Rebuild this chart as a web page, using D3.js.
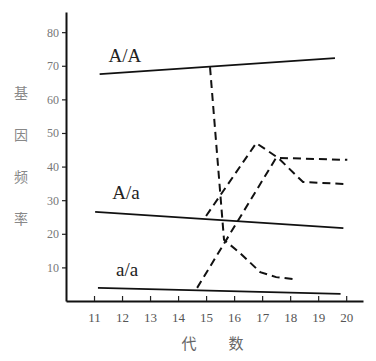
<!DOCTYPE html>
<html>
<head>
<meta charset="utf-8">
<script src="https://cdn.jsdelivr.net/npm/d3@7.9.0/dist/d3.min.js"></script>
<style>
  body { margin: 0; background: #fff; }
  svg { display: block; }
</style>
</head>
<body>
<div id="chart"></div>
<script>
// generation ticks and frequency ticks
const xTicks = [11, 12, 13, 14, 15, 16, 17, 18, 19, 20];
const yTicks = [10, 20, 30, 40, 50, 60, 70, 80];
const yTitle = ['基', '因', '频', '率'];
const xTitle = ['代', '数'];

// solid lines: genotype frequencies in the first population
const genotypes = ['A/A', 'A/a', 'a/a'];
const lineAA = [[11.2, 67.5], [19.6, 72.3]];
const lineAa = [[11.04, 26.5], [19.9, 21.7]];
const lineaa = [[11.14, 3.9], [19.8, 2.1]];

// dashed lines
const dashAA = [[15.14, 69.6], [15.64, 18.2], [16.21, 14.3], [16.93, 8.6], [17.5, 7.1], [18.14, 6.5]];
const dashaa = [[14.68, 3.9], [17.5, 42.6], [20.04, 42.0]];
const dashAa = [[15.0, 25.3], [16.79, 47.0], [17.57, 42.6], [18.46, 35.4], [20.04, 34.8]];

const width = 376;
const height = 361;

const x = d3.scaleLinear().domain([10, 20.6]).range([66, 363]);
const y = d3.scaleLinear().domain([0, 86]).range([301, 12]);

const svg = d3.select('#chart')
  .append('svg')
  .attr('width', width)
  .attr('height', height);

const serif = '"Liberation Serif", "DejaVu Serif", serif';
const cjk = '"Noto Sans CJK SC", sans-serif';

// axes
const yAxis = svg.append('g')
  .attr('transform', `translate(${x(10)},0)`)
  .call(d3.axisLeft(y).tickValues(yTicks).tickSize(4).tickSizeOuter(0).tickPadding(3));

const xAxis = svg.append('g')
  .attr('transform', `translate(0,${y(0)})`)
  .call(d3.axisBottom(x).tickValues(xTicks).tickSize(-5).tickSizeOuter(0).tickPadding(12));

[yAxis, xAxis].forEach((g) => {
  g.select('.domain').attr('stroke', '#111').attr('stroke-width', 2);
  g.selectAll('.tick line').attr('stroke', '#222').attr('stroke-width', 1.2);
  g.selectAll('.tick text')
    .attr('fill', '#555')
    .attr('font-family', serif)
    .attr('font-size', 13);
});
yAxis.selectAll('.tick text').attr('font-size', 12).attr('fill', '#777');

// axis titles
svg.append('g')
  .selectAll('text')
  .data(yTitle)
  .join('text')
  .attr('x', 21)
  .attr('y', (d, i) => 92 + i * 42)
  .attr('text-anchor', 'middle')
  .attr('dominant-baseline', 'central')
  .attr('font-family', cjk)
  .attr('font-size', 14)
  .attr('fill', '#888')
  .text((d) => d);

svg.append('g')
  .selectAll('text')
  .data(xTitle)
  .join('text')
  .attr('x', (d, i) => 189 + i * 47)
  .attr('y', 342)
  .attr('text-anchor', 'middle')
  .attr('dominant-baseline', 'central')
  .attr('font-family', cjk)
  .attr('font-size', 15)
  .attr('fill', '#666')
  .text((d) => d);

const line = d3.line().x((d) => x(d[0])).y((d) => y(d[1]));

svg.append('g')
  .selectAll('path')
  .data([lineAA, lineAa, lineaa])
  .join('path')
  .attr('d', line)
  .attr('fill', 'none')
  .attr('stroke', '#111')
  .attr('stroke-width', 1.8);

svg.append('g')
  .selectAll('path')
  .data([dashAA, dashaa, dashAa])
  .join('path')
  .attr('d', line)
  .attr('fill', 'none')
  .attr('stroke', '#111')
  .attr('stroke-width', 2)
  .attr('stroke-dasharray', '8,5');

// genotype labels sit above the left end of each solid line
const labelSpots = [[12.1, 71.1], [12.14, 30.4], [12.18, 7.4]];
svg.append('g')
  .selectAll('text')
  .data(genotypes)
  .join('text')
  .attr('x', (d, i) => x(labelSpots[i][0]))
  .attr('y', (d, i) => y(labelSpots[i][1]))
  .attr('text-anchor', 'middle')
  .attr('font-family', serif)
  .attr('font-size', 19)
  .attr('fill', '#222')
  .text((d) => d);
</script>
</body>
</html>
